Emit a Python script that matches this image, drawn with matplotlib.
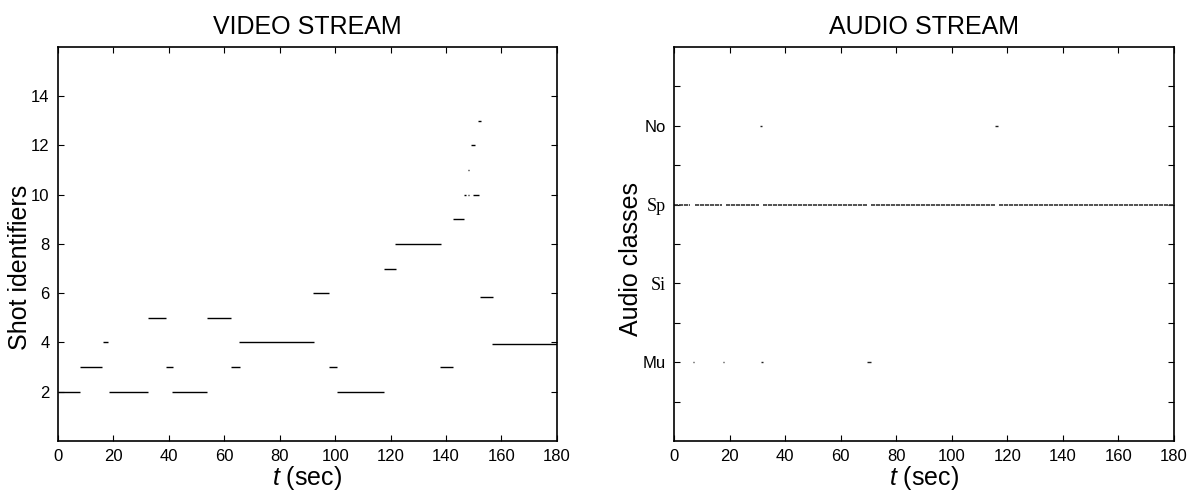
#Recreates the video / audio stream segmentation plots

import matplotlib.pyplot as plt

plt.rcParams['font.family'] = ['Liberation Sans', 'DejaVu Sans']
plt.rcParams['mathtext.fontset'] = 'custom'
plt.rcParams['mathtext.it'] = 'Liberation Sans:italic'
plt.rcParams['mathtext.rm'] = 'Liberation Sans'

#Video stream: shot id held from start to end (sec)
shot_ids = [2, 3, 4, 2, 5, 3, 2, 5, 3, 4, 6, 3, 2, 7, 8, 3, 9,
            10, 10, 10, 11, 12, 13, 5.85, 3.95]
shot_start = [0, 8, 16.2, 18.5, 32.4, 39.0, 41.3, 53.7, 62.4, 65.4, 92.1, 97.9, 100.8,
              117.6, 121.7, 137.8, 142.4, 146.6, 147.9, 149.8, 147.9, 149.0, 151.5,
              152.2, 156.7]
shot_end = [8, 16, 18.1, 32.5, 38.9, 41.4, 53.7, 62.5, 65.5, 92.2, 97.9, 100.8, 117.7,
            121.9, 138.1, 142.4, 146.5, 147.1, 148.4, 151.9, 148.4, 150.3, 152.7,
            156.8, 180]

#Audio stream: class codes 1=Mu, 2=Si, 3=Sp, 4=No
audio_labels = ['Mu', 'Si', 'Sp', 'No']
sp_start = [0, 7.3, 18.6, 32.1, 71.0, 116.9]
sp_end = [5.8, 17.1, 30.4, 69.4, 115.6, 180]
other_class = [1, 1, 1, 1, 4, 4]
other_start = [6.6, 17.4, 31.4, 69.4, 31.0, 115.7]
other_end = [7.2, 18.0, 31.9, 70.7, 31.5, 116.5]

x_ticks = list(range(0, 181, 20))


def style_axes(ax):
    for s in ax.spines.values():
        s.set_linewidth(1.2)
    ax.tick_params(which='both', direction='in', top=True, right=True,
                   length=4, width=0.8, labelsize=12, pad=6)
    ax.set_xlim(0, 180)
    ax.set_xticks(x_ticks)
    ax.set_xlabel(r'$t$ (sec)', fontsize=18, labelpad=0)


fig = plt.figure(figsize=(11.9, 4.92), dpi=100)

#1) Video stream
ax1 = fig.add_axes([0.0487, 0.1037, 0.4193, 0.8008])
ax1.hlines(shot_ids, shot_start, shot_end, colors='black', linewidth=1.0)
style_axes(ax1)
ax1.set_ylim(0, 16)
ax1.set_yticks(range(2, 15, 2))
ax1.set_ylabel('Shot identifiers', fontsize=18)
ax1.yaxis.set_label_coords(-0.052, 0.44)
ax1.set_title('VIDEO STREAM', fontsize=18, pad=9)

#2) Audio stream
ax2 = fig.add_axes([0.5666, 0.1037, 0.4199, 0.8008])
ax2.hlines([3] * len(sp_start), sp_start, sp_end, colors='#333333',
           linewidth=1.2, linestyles=(0, (2.5, 0.5)))
ax2.hlines(other_class, other_start, other_end, colors='#222222', linewidth=1.0)
style_axes(ax2)
ax2.set_ylim(0, 5)
ax2.set_yticks([1, 2, 3, 4])
ax2.set_yticks([0.5, 1.5, 2.5, 3.5, 4.5], minor=True)
ax2.set_yticklabels(audio_labels)
for lab in ax2.get_yticklabels():
    if lab.get_text() in ('Sp', 'Si'):
        lab.set_family('Liberation Serif')
        lab.set_fontsize(13)
ax2.set_ylabel('Audio classes', fontsize=18)
ax2.yaxis.set_label_coords(-0.062, 0.462)
ax2.set_title('AUDIO STREAM', fontsize=18, pad=9)

plt.savefig('out.png', dpi=100)
plt.close()
